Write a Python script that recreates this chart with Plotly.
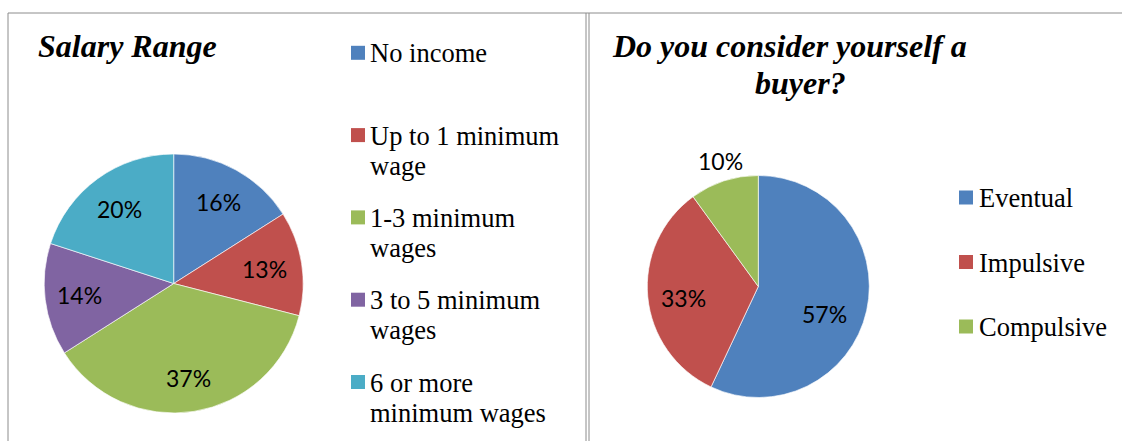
import math
import textwrap
import plotly.graph_objects as go

# ---- data -------------------------------------------------------------
salary_ranges = ["No income", "Up to 1 minimum wage", "1-3 minimum wages",
                 "3 to 5 minimum wages", "6 or more minimum wages"]
salary_pct = [16, 13, 37, 14, 20]

buyer_types = ["Eventual", "Impulsive", "Compulsive"]
buyer_pct = [57, 33, 10]

salary_title = "Salary Range"
buyer_title_lines = ["Do you consider yourself a", "buyer?"]

# ---- style ------------------------------------------------------------
PALETTE = ["#4F81BD", "#C0504D", "#9BBB59", "#8064A2", "#4BACC6"]
W, H = 1122, 441
SERIF = "Liberation Serif, Times New Roman, serif"
SANS = "Lato, Calibri, sans-serif"
TITLE_SIZE = 32
LEGEND_SIZE = 26.5
PCT_SIZE = 23
BORDER = "#8c8c8c"

# pie geometry in pixels: centre x, centre y, radius
LEFT_PIE = (173.7, 283.5, 129.5)
RIGHT_PIE = (758.3, 286.5, 111.0)

# label radius (fraction of pie radius) and angular nudge (degrees) per slice
LEFT_LABEL_R = [0.72, 0.71, 0.74, 0.73, 0.71]
LEFT_LABEL_NUDGE = [0, 0, 0, 0, 0]
RIGHT_LABEL_R = [0.65, 0.68, 1.18]
RIGHT_LABEL_NUDGE = [10, -3, 1]


def px(x):
    return x / W


def py(y):
    return 1 - y / H


def domain(cx, cy, r):
    return dict(x=[px(cx - r), px(cx + r)], y=[py(cy + r), py(cy - r)])


fig = go.Figure()
annotations = []
shapes = []


def add_pie(labels, values, geom, rfrac, nudge):
    cx, cy, r = geom
    fig.add_trace(go.Pie(
        labels=labels, values=values, sort=False, direction="clockwise",
        rotation=0, textinfo="none", hole=0,
        marker=dict(colors=PALETTE[:len(values)],
                    line=dict(color="rgba(255,255,255,0.8)", width=0.8)),
        domain=domain(cx, cy, r), showlegend=False,
        hovertemplate="%{label}: %{value}%<extra></extra>",
    ))
    total = sum(values)
    cum = 0
    for i, v in enumerate(values):
        mid = (cum + v / 2) / total * 360 + nudge[i]
        cum += v
        a = math.radians(mid)
        lx = cx + rfrac[i] * r * math.sin(a)
        ly = cy - rfrac[i] * r * math.cos(a)
        annotations.append(dict(
            x=px(lx), y=py(ly), xref="paper", yref="paper",
            text=f"{v}%", showarrow=False, xanchor="center", yanchor="middle",
            font=dict(family=SANS, size=PCT_SIZE, color="#000000")))


add_pie(salary_ranges, salary_pct, LEFT_PIE, LEFT_LABEL_R, LEFT_LABEL_NUDGE)
add_pie(buyer_types, buyer_pct, RIGHT_PIE, RIGHT_LABEL_R, RIGHT_LABEL_NUDGE)


def add_legend(labels, sq_x, txt_x, y0, step, wrap, line_gap):
    for i, name in enumerate(labels):
        yc = y0 + i * step
        shapes.append(dict(type="rect", xref="paper", yref="paper",
                           x0=px(sq_x), x1=px(sq_x + 14),
                           y0=py(yc + 6.5), y1=py(yc - 7.5),
                           fillcolor=PALETTE[i], line=dict(width=0)))
        lines = textwrap.wrap(name, wrap) if wrap else [name]
        for k, line in enumerate(lines):
            annotations.append(dict(
                x=px(txt_x), y=py(yc + k * line_gap), xref="paper", yref="paper",
                text=line, showarrow=False, xanchor="left", yanchor="middle",
                font=dict(family=SERIF, size=LEGEND_SIZE, color="#000000")))


add_legend(salary_ranges, 351, 368, 53.3, 82.3, 15, 30)
add_legend(buyer_types, 959, 977, 198, 64.5, None, 0)

# titles
annotations.append(dict(
    x=px(36), y=py(46), xref="paper", yref="paper", text=f"<b><i>{salary_title}</i></b>",
    showarrow=False, xanchor="left", yanchor="middle",
    font=dict(family=SERIF, size=TITLE_SIZE, color="#000000")))
for k, (line, xc) in enumerate(zip(buyer_title_lines, [789.5, 800])):
    annotations.append(dict(
        x=px(xc), y=py(46 + k * 37), xref="paper", yref="paper",
        text=f"<b><i>{line}</i></b>", showarrow=False, xanchor="center",
        yanchor="middle", font=dict(family=SERIF, size=TITLE_SIZE, color="#000000")))

# panel borders
for x0, y0, x1, y1 in [(8, 13, W, 13), (8, 13, 8, H), (586, 13, 586, H), (589, 13, 589, H)]:
    shapes.append(dict(type="line", xref="paper", yref="paper",
                       x0=px(x0), y0=py(y0), x1=px(x1), y1=py(y1),
                       line=dict(color=BORDER, width=1)))

fig.update_layout(
    width=W, height=H, autosize=False,
    margin=dict(l=0, r=0, t=0, b=0, pad=0),
    paper_bgcolor="#ffffff", plot_bgcolor="#ffffff",
    annotations=annotations, shapes=shapes, showlegend=False,
)

fig.write_html("out.html")
